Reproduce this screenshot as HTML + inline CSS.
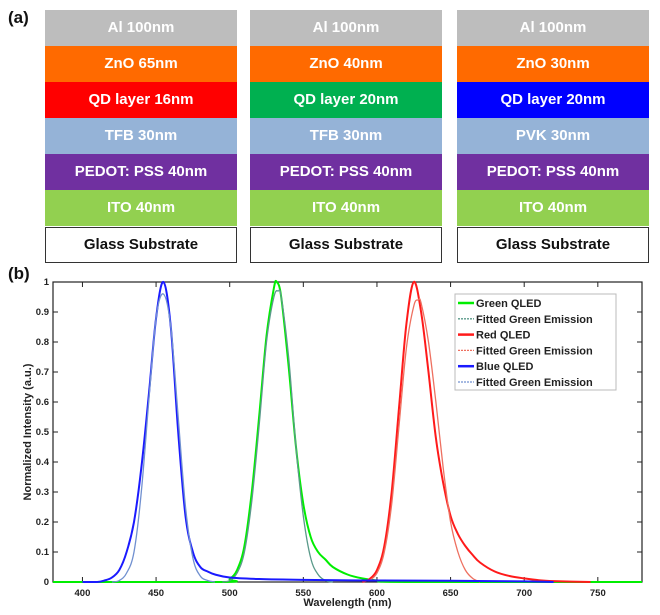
<!DOCTYPE html>
<html><head><meta charset="utf-8"><style>
body{margin:0;width:660px;height:615px;background:#fff;font-family:"Liberation Sans",sans-serif;position:relative;overflow:hidden}
.stack{position:absolute;top:10px;width:192px}
.layer{height:36px;line-height:36px;text-align:center;color:#fff;font-weight:bold;font-size:15px}
.glass{height:34px;line-height:34px;border:1.5px solid #333;color:#111;background:#fff;text-align:center;font-weight:bold;font-size:15px;margin-top:1px}
.lab{position:absolute;font-weight:bold;font-size:17px;color:#111}
</style></head><body>
<div class="lab" style="left:8px;top:8px">(a)</div>
<div class="lab" style="left:8px;top:264px">(b)</div>

<div class="stack" style="left:45px">
<div class="layer" style="background:#bdbdbd">Al 100nm</div>
<div class="layer" style="background:#ff6a00">ZnO 65nm</div>
<div class="layer" style="background:#ff0000">QD layer 16nm</div>
<div class="layer" style="background:#95b3d7">TFB 30nm</div>
<div class="layer" style="background:#7030a0">PEDOT: PSS 40nm</div>
<div class="layer" style="background:#92d050">ITO 40nm</div>
<div class="glass">Glass Substrate</div>
</div>
<div class="stack" style="left:250px">
<div class="layer" style="background:#bdbdbd">Al 100nm</div>
<div class="layer" style="background:#ff6a00">ZnO 40nm</div>
<div class="layer" style="background:#00b050">QD layer 20nm</div>
<div class="layer" style="background:#95b3d7">TFB 30nm</div>
<div class="layer" style="background:#7030a0">PEDOT: PSS 40nm</div>
<div class="layer" style="background:#92d050">ITO 40nm</div>
<div class="glass">Glass Substrate</div>
</div>
<div class="stack" style="left:457px">
<div class="layer" style="background:#bdbdbd">Al 100nm</div>
<div class="layer" style="background:#ff6a00">ZnO 30nm</div>
<div class="layer" style="background:#0000ff">QD layer 20nm</div>
<div class="layer" style="background:#95b3d7">PVK 30nm</div>
<div class="layer" style="background:#7030a0">PEDOT: PSS 40nm</div>
<div class="layer" style="background:#92d050">ITO 40nm</div>
<div class="glass">Glass Substrate</div>
</div>

<svg id="chart" width="660" height="615" style="position:absolute;left:0;top:0" xmlns="http://www.w3.org/2000/svg"></svg>
<script>
const xTicks=[400,450,500,550,600,650,700,750];
const yTicks=[0,0.1,0.2,0.3,0.4,0.5,0.6,0.7,0.8,0.9,1];
const yTickLabels=["0","0.1","0.2","0.3","0.4","0.5","0.6","0.7","0.8","0.9","1"];
const blueX=[400,410,415,420,425,430,435,440,445,450,455,460,465,470,475,480,485,490,500,520,550,600,650,700,720];
const blueY=[0,0,0.005,0.015,0.04,0.1,0.2,0.38,0.62,0.88,1.0,0.85,0.5,0.22,0.1,0.05,0.035,0.025,0.015,0.01,0.007,0.005,0.004,0.002,0];
const blueFitX=[420,425,430,435,440,445,450,455,460,465,470,475,480,485,490];
const blueFitY=[0,0.005,0.03,0.1,0.3,0.6,0.88,0.96,0.85,0.55,0.25,0.08,0.02,0.005,0];
const greenX=[380,495,500,505,510,515,520,525,530,532,535,540,545,550,555,560,565,570,580,590,600,620,780];
const greenY=[0,0,0.01,0.04,0.12,0.3,0.55,0.82,0.98,1.0,0.95,0.72,0.45,0.26,0.15,0.1,0.075,0.05,0.025,0.012,0.005,0,0];
const greenFitX=[495,500,505,510,515,520,525,530,533,535,540,545,550,555,560,565,570];
const greenFitY=[0,0.005,0.03,0.1,0.27,0.52,0.8,0.95,0.97,0.95,0.75,0.45,0.22,0.08,0.025,0.005,0];
const redX=[590,595,600,605,610,615,620,625,630,635,640,645,650,655,660,665,670,680,690,700,710,720,745];
const redY=[0,0.01,0.04,0.12,0.3,0.58,0.86,1.0,0.9,0.7,0.48,0.33,0.22,0.16,0.12,0.09,0.065,0.035,0.02,0.012,0.006,0.003,0];
const redFitX=[595,600,605,610,615,620,625,628,630,635,640,645,650,655,660,665,670];
const redFitY=[0.005,0.03,0.1,0.26,0.52,0.78,0.92,0.94,0.93,0.8,0.6,0.38,0.2,0.1,0.04,0.012,0];
const legendLabels=["Green QLED","Fitted Green Emission","Red QLED","Fitted Green Emission","Blue QLED","Fitted Green Emission"];
const legendColors=["#00ee00","#5a9a8a","#ff1a1a","#ee7060","#1a1aff","#7090d0"];

const L=53,R=642,T=282,B=582,XMIN=380,XMAX=780;
const sx=v=>L+(v-XMIN)/(XMAX-XMIN)*(R-L);
const sy=v=>B-v*(B-T);
const svg=document.getElementById('chart');
const NS="http://www.w3.org/2000/svg";
function mk(tag,at){const e=document.createElementNS(NS,tag);for(const k in at)e.setAttribute(k,at[k]);svg.appendChild(e);return e;}
function txt(s,at){const e=mk('text',at);e.textContent=s;return e;}

const frame=mk('rect',{x:L,y:T,width:R-L,height:B-T,fill:'#fff',stroke:'#222','stroke-width':1.2});


xTicks.forEach(t=>{
  const x=sx(t);
  mk('line',{x1:x,x2:x,y1:B,y2:B-5,stroke:'#222'});
  mk('line',{x1:x,x2:x,y1:T,y2:T+5,stroke:'#222'});
  const l=txt(String(t),{x:x,y:B+14,'text-anchor':'middle','font-size':9.5,'font-weight':'bold',fill:'#222'});
  
  
});
yTicks.forEach((t,i)=>{
  const y=sy(t);
  mk('line',{x1:L,x2:L+5,y1:y,y2:y,stroke:'#222'});
  mk('line',{x1:R,x2:R-5,y1:y,y2:y,stroke:'#222'});
  const l=txt(yTickLabels[i],{x:L-4,y:y+3,'text-anchor':'end','font-size':9.5,'font-weight':'bold',fill:'#222'});
  
  
});
const xt=txt('Wavelength (nm)',{x:(L+R)/2,y:606,'text-anchor':'middle','font-size':11,'font-weight':'bold',fill:'#222'});


const yt=txt('Normalized Intensity (a.u.)',{x:0,y:0,'text-anchor':'middle','font-size':11,'font-weight':'bold',fill:'#222',transform:`translate(31,${(T+B)/2}) rotate(-90)`});



function line(xs,ys,color,w,name){
  const P=xs.map((x,i)=>[sx(x),sy(ys[i])]);
  let d='M'+P[0][0].toFixed(1)+','+P[0][1].toFixed(1);
  for(let i=0;i<P.length-1;i++){
    const p0=P[i-1]||P[i],p1=P[i],p2=P[i+1],p3=P[i+2]||P[i+1];
    let c1y=p1[1]+(p2[1]-p0[1])/6,c2y=p2[1]-(p3[1]-p1[1])/6;
    c1y=Math.min(B,c1y);c2y=Math.min(B,c2y);
    d+=` C${(p1[0]+(p2[0]-p0[0])/6).toFixed(1)},${c1y.toFixed(1)} ${(p2[0]-(p3[0]-p1[0])/6).toFixed(1)},${c2y.toFixed(1)} ${p2[0].toFixed(1)},${p2[1].toFixed(1)}`;
  }
  const p=mk('path',{d:d,fill:'none',stroke:color,'stroke-width':w,'stroke-linejoin':'round'});
  
  
}
line(greenX,greenY,legendColors[0],2,'green-qled-line');
line(greenFitX,greenFitY,legendColors[1],1.3,'green-fit-line');
line(redX,redY,legendColors[2],2,'red-qled-line');
line(redFitX,redFitY,legendColors[3],1.3,'red-fit-line');
line(blueX,blueY,legendColors[4],2,'blue-qled-line');
line(blueFitX,blueFitY,legendColors[5],1.3,'blue-fit-line');

const lg=mk('rect',{x:455,y:294,width:161,height:96,fill:'#fff',stroke:'#bbb'});


legendLabels.forEach((s,i)=>{
  const y=303+i*15.8;
  const ln=mk('line',{x1:458,x2:474,y1:y,y2:y,stroke:legendColors[i],'stroke-width':i%2?1.3:2.5,'stroke-dasharray':i%2?'2,1':'none'});
  
  
  const t=txt(s,{x:476,y:y+4,'font-size':11,'font-weight':'bold',fill:'#222'});
  
  
});
</script>
</body></html>
